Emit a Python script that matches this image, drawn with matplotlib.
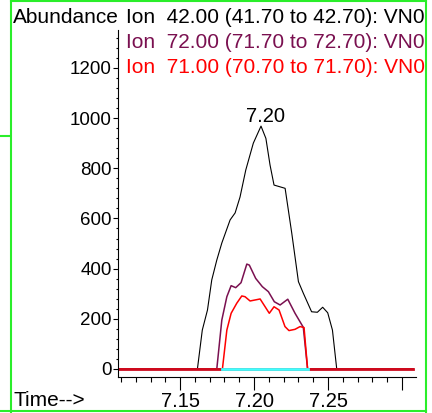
import matplotlib
matplotlib.use("Agg")
import matplotlib.pyplot as plt
from matplotlib.lines import Line2D
from matplotlib.patches import Rectangle
from matplotlib.ticker import MultipleLocator

plt.rcParams['font.family'] = ['Liberation Sans', 'DejaVu Sans']

# ion 42 (black)
t42 = [7.108, 7.1617, 7.165, 7.1685, 7.1714, 7.1748, 7.1782, 7.1838, 7.1872, 7.1905,
       7.1944, 7.1995, 7.2047, 7.208, 7.2108, 7.2135, 7.221, 7.2255, 7.230, 7.2333,
       7.2389, 7.2428, 7.2464, 7.2498, 7.253, 7.2559, 7.3075]
y42 = [0, 0, 155, 235, 355, 434, 502, 594, 622, 685,
       793, 900, 968, 919, 813, 733, 720, 541, 348, 302,
       228, 226, 246, 224, 155, 0, 0]

# ion 72 (purple)
t72 = [7.108, 7.1748, 7.1782, 7.1816, 7.1845, 7.1876, 7.1912, 7.1951, 7.1968, 7.2011,
       7.2056, 7.2097, 7.2137, 7.2176, 7.2228, 7.2277, 7.2333, 7.2362, 7.3075]
y72 = [0, 0, 195, 288, 332, 324, 344, 418, 414, 361,
       328, 308, 268, 255, 278, 222, 166, 0, 0]

# ion 71 (red)
t71 = [7.108, 7.1786, 7.1816, 7.1845, 7.1883, 7.1917, 7.1939, 7.1973, 7.2041, 7.2103,
       7.2135, 7.2169, 7.2209, 7.2236, 7.2277, 7.2311, 7.2338, 7.2362, 7.3075]
y71 = [0, 0, 155, 222, 262, 291, 288, 271, 279, 222,
       248, 235, 169, 153, 158, 169, 165, 0, 0]

legend_lines = ["Ion  42.00 (41.70 to 42.70): VN0",
                "Ion  72.00 (71.70 to 72.70): VN0",
                "Ion  71.00 (70.70 to 71.70): VN0"]
peak_label = "7.20"

W, H = 432, 413
fig = plt.figure(figsize=(W / 100, H / 100), dpi=100)
ax = fig.add_axes([118 / W, 1 - 377 / H, (416 - 118) / W, (377 - 30) / H])

ax.plot(t42, y42, color='black', lw=0.8)
ax.plot(t72, y72, color='#7a1050', lw=1.1)
ax.plot(t71, y71, color='#ff0000', lw=1.1)
ax.plot([t71[0], t71[-1]], [0, 0], color='#cc0a1e', lw=2)
ax.plot([t71[1], t71[-2]], [0, 0], color='#40ffff', lw=2)

ipk = y42.index(max(y42))
ax.annotate(peak_label, (t42[ipk], y42[ipk]), xytext=(3, 0), textcoords='offset points',
            ha='center', va='bottom', fontsize=14.5)

ax.set_xlim(7.108, 7.3095)
ax.set_ylim(-32, 1351)
for s in ['top', 'right']:
    ax.spines[s].set_visible(False)
ax.xaxis.set_major_locator(MultipleLocator(0.05))
ax.xaxis.set_minor_locator(MultipleLocator(0.01))
ax.yaxis.set_major_locator(MultipleLocator(200))
ax.yaxis.set_minor_locator(MultipleLocator(40))
ax.xaxis.set_major_formatter(plt.FuncFormatter(lambda v, p: f"{v:.2f}" if v < 7.28 else ""))
ax.tick_params(axis='x', which='major', length=9.5, width=0.8, labelsize=14.5, pad=1)
ax.tick_params(axis='x', which='minor', length=3.6, width=0.8)
ax.tick_params(axis='y', which='major', length=3.5, width=0.8, labelsize=13.5, pad=1)
ax.tick_params(axis='y', which='minor', length=1.5, width=0.8)

fig.text(13 / W, 1 - 23 / H, "Abundance", fontsize=15, va='baseline')
fig.text(13 / W, 1 - 406 / H, "Time-->", fontsize=15, va='baseline')
for i, (s, c) in enumerate(zip(legend_lines, ['black', '#7a1050', '#ff0000'])):
    fig.text(126 / W, 1 - (23 + 25 * i) / H, s, fontsize=15, color=c, va='baseline')

# white margin right of the frame, then the green frame
fig.add_artist(Rectangle((426 / W, 0), 1, 1, transform=fig.transFigure,
                         facecolor='white', edgecolor='none', zorder=10))
green = '#2aee2a'
for xs, ys in [([11, 11], [0, 413]), ([426, 426], [0, 412]), ([0, 426], [411, 411]),
               ([11, 426], [1, 1]), ([0, 10], [136, 136])]:
    fig.add_artist(Line2D([x / W for x in xs], [1 - y / H for y in ys], color=green,
                          lw=1.5, transform=fig.transFigure, zorder=11))

fig.savefig("out.png", dpi=100)
